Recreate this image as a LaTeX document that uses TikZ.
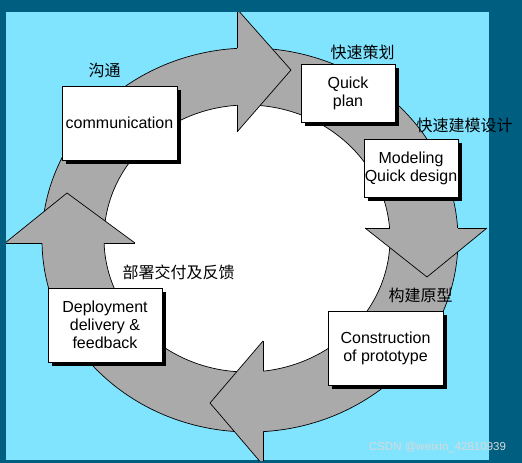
\documentclass[tikz,border=0pt]{standalone}
\usepackage{fontspec}
\setmainfont{Liberation Sans}
\newfontfamily\cjk{Noto Sans CJK SC}
\usetikzlibrary{shadows}
\definecolor{frameteal}{HTML}{005F80}
\definecolor{skyblue}{HTML}{80E4FF}
\definecolor{ringgray}{HTML}{AAAAAA}

\begin{document}
\begin{tikzpicture}
        [
            x                 = 1pt,
            y                 = -1pt,
            stage/.style      = {shape=rectangle, draw, line width=0.8pt, fill=white, align=center,
                                 inner sep=0pt, font=\fontsize{16}{18}\selectfont,
                                 drop shadow={shadow xshift=3.5pt, shadow yshift=-3.5pt, fill=black, opacity=1}},
            bigstage/.style   = {stage, minimum width=115pt, minimum height=74pt},
            smallstage/.style = {stage, minimum width=94pt, minimum height=58pt},
            cntag/.style      = {inner sep=0pt, font=\cjk\fontsize{16}{18}\selectfont},
            rimline/.style    = {draw, line width=0.7pt, line join=miter},
        ]
        \useasboundingbox (0,0) rectangle (522,463);
        \fill [frameteal] (0,0) rectangle (522,463);
        \fill [skyblue] (6,12) rectangle (489,460);

        \begin{scope}
            \clip (6,12) rectangle (489,460);
            % the ring
            \fill [white] (247,238.5) ellipse [x radius=143pt, y radius=133.5pt];
            \path [fill=ringgray, even odd rule]
                (250,240) ellipse [x radius=208pt, y radius=192pt]
                (247,238.5) ellipse [x radius=143pt, y radius=133.5pt];
            \path [rimline] (250,240) ellipse [x radius=208pt, y radius=192pt];
            \path [rimline] (247,238.5) ellipse [x radius=143pt, y radius=133.5pt];

            % top head
            \coordinate (topA) at (237,9);
            \coordinate (topTip) at (291,70);
            \coordinate (topB) at (237,132);
            \fill [ringgray] (topA) -- (topTip) -- (topB) -- cycle;
            \path [rimline] (topA) -- (topTip) -- (topB);
            \path [rimline] (topA) -- (237,48) (237,105) -- (topB);

            % right head
            \coordinate (rightA) at (365,228);
            \coordinate (rightTip) at (427,277);
            \coordinate (rightB) at (487,228);
            \fill [ringgray] (rightA) -- (rightTip) -- (rightB) -- cycle;
            \path [rimline] (rightA) -- (rightTip) -- (rightB);
            \path [rimline] (rightA) -- (389.6,228) (457.6,228) -- (rightB);

            % bottom head
            \coordinate (bottomA) at (263,341);
            \coordinate (bottomTip) at (210,403);
            \coordinate (bottomB) at (263,465);
            \fill [ringgray] (bottomA) -- (bottomTip) -- (bottomB) -- cycle;
            \path [rimline] (bottomA) -- (bottomTip) -- (bottomB);
            \path [rimline] (bottomA) -- (263,371.2) (263,431.6) -- (bottomB);

            % left head
            \coordinate (leftA) at (5,243);
            \coordinate (leftTip) at (67,193);
            \coordinate (leftB) at (135,243);
            \fill [ringgray] (leftA) -- (leftTip) -- (leftB) -- cycle;
            \path [rimline] (leftA) -- (leftTip) -- (leftB);
            \path [rimline] (leftA) -- (42,243) (104.1,243) -- (leftB);
        \end{scope}

        \node [bigstage] (comm) at (119.5,123) {communication};
        \node [smallstage] (plan) at (348,93) {Quick\\plan};
        \node [smallstage] (model) at (411,168) {Modeling\\Quick design};
        \node [bigstage] (build) at (385.5,348) {Construction\\of prototype};
        \node [bigstage, minimum width=114pt] (deploy) at (105,325) {Deployment\\delivery \&\\feedback};

        \node [cntag] (commtag) at (104.5,70) {沟通};
        \node [cntag] (plantag) at (362.5,52) {快速策划};
        \node [cntag] (modeltag) at (464.5,125) {快速建模设计};
        \node [cntag] (buildtag) at (420.5,295) {构建原型};
        \node [cntag] (deploytag) at (178.5,272) {部署交付及反馈};

        \node [inner sep=0pt, text=gray!30, font=\fontsize{11.5}{12}\selectfont] (mark) at (437.5,447) {CSDN @weixin\_42810939};
    \end{tikzpicture}
\end{document}
